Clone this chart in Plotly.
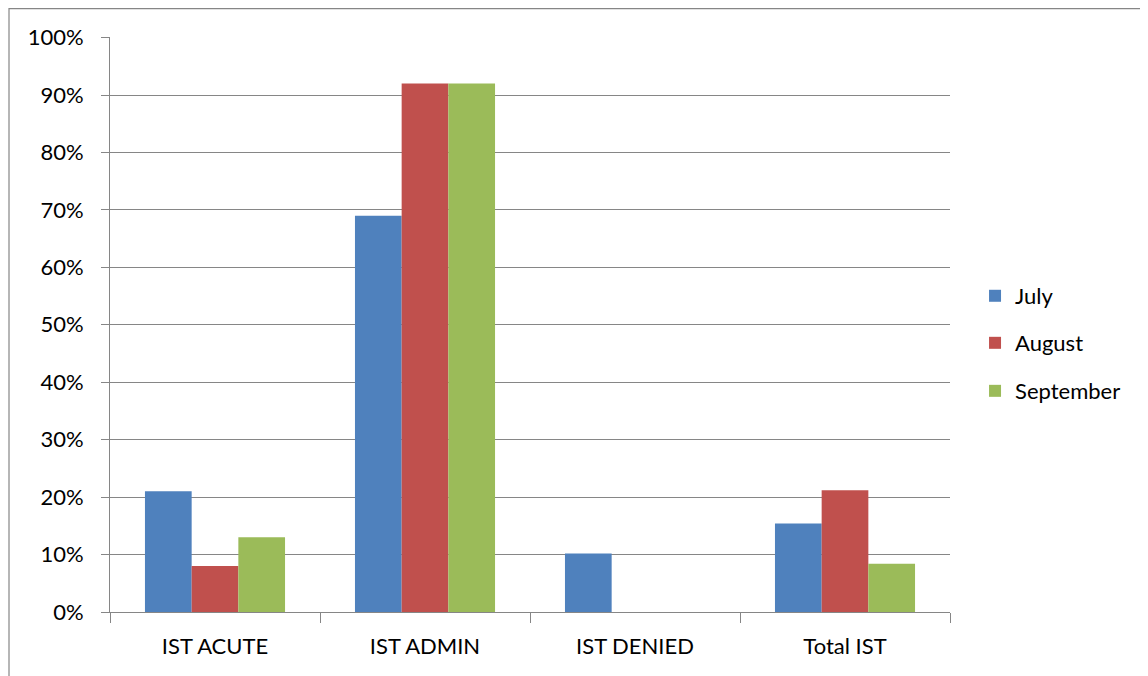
import plotly.graph_objects as go

categories = ["IST ACUTE", "IST ADMIN", "IST DENIED", "Total IST"]
july = [0.21, 0.69, 0.102, 0.154]
august = [0.08, 0.92, 0.0, 0.212]
september = [0.13, 0.92, 0.0, 0.084]
y_ticks = [0, 0.1, 0.2, 0.3, 0.4, 0.5, 0.6, 0.7, 0.8, 0.9, 1.0]
y_labels = ["0%", "10%", "20%", "30%", "40%", "50%", "60%", "70%", "80%", "90%", "100%"]

FONT = "Lato"
FS = 22
series = [("July", july, "#4F81BD", "legend", 0.5496),
          ("August", august, "#C0504D", "legend2", 0.4678),
          ("September", september, "#9BBB59", "legend3", 0.3843)]

fig = go.Figure()
for name, vals, col, lg, ly in series:
    fig.add_trace(go.Bar(x=categories, y=vals, name=name, marker_color=col,
                         marker_line_width=0, legend=lg, showlegend=True))

legend_common = dict(x=1.0298, xanchor="left", yanchor="middle",
                     font=dict(size=FS, family=FONT), itemwidth=30,
                     itemsizing="constant", bgcolor="rgba(0,0,0,0)")

fig.update_layout(
    width=1140, height=668,
    showlegend=True,
    paper_bgcolor="white", plot_bgcolor="white",
    margin=dict(l=102, r=198, t=29, b=64),
    barmode="group", bargap=0.333, bargroupgap=0,
    font=dict(family=FONT, size=FS, color="black"),
    legend=dict(y=series[0][4], **legend_common),
    legend2=dict(y=series[1][4], **legend_common),
    legend3=dict(y=series[2][4], **legend_common),
    xaxis=dict(showgrid=False, ticks="outside", tickson="boundaries", ticklen=10,
               tickcolor="#868686", showline=True, linecolor="#868686", linewidth=1,
               ticklabelstandoff=15, tickfont=dict(size=FS, family=FONT)),
    yaxis=dict(range=[0, 1.001], tickvals=y_ticks, ticktext=y_labels,
               showgrid=True, gridcolor="#868686", gridwidth=1,
               ticks="outside", ticklen=8, tickcolor="#868686",
               showline=True, linecolor="#868686", linewidth=1,
               zeroline=False, ticklabelstandoff=13,
               tickfont=dict(size=FS, family=FONT)),
    shapes=[dict(type="rect", xref="paper", yref="paper",
                 x0=-101/840, x1=1.5, y0=-0.5, y1=1 + 28.3/575,
                 line=dict(color="#868686", width=1.2))],
)
fig.write_html("out.html")
